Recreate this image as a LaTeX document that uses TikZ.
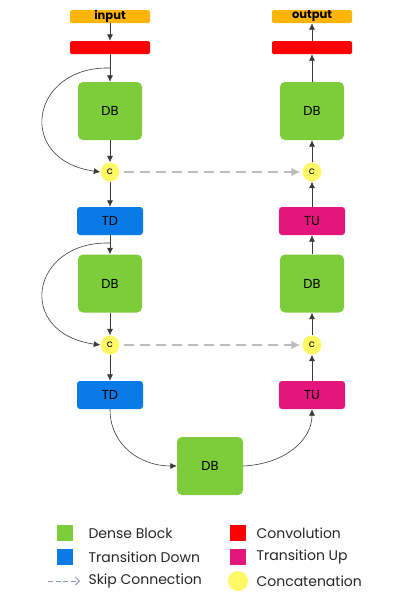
\documentclass[tikz,border=0pt]{standalone}
\usepackage{fontspec}
\setmainfont{Poppins}
\usepackage{tikz}
\tikzset{>=latex}
\usetikzlibrary{arrows.meta}
\definecolor{dbgreen}{HTML}{7DCC3A}
\definecolor{tdblue}{HTML}{0A7BE6}
\definecolor{tupink}{HTML}{E4157C}
\definecolor{convred}{HTML}{FF0000}
\definecolor{ioorange}{HTML}{FFB50A}
\definecolor{catyellow}{HTML}{FFF966}
\definecolor{skipgray}{HTML}{BDBDBD}
\definecolor{legendgray}{HTML}{8A9AAE}
\definecolor{linegray}{HTML}{3A3A3A}

\tikzset{
    iobox/.style={fill=ioorange, rounded corners=1.5pt, minimum width=80pt, minimum height=13pt, inner sep=0pt, font=\fontsize{11.5}{11.5}\selectfont\bfseries},
    convbox/.style={fill=convred, rounded corners=1.5pt, minimum width=80pt, minimum height=13pt, inner sep=0pt},
    dbbox/.style={fill=dbgreen, rounded corners=5pt, minimum width=64pt, minimum height=58pt, font=\fontsize{13}{13}\selectfont},
    tdbox/.style={fill=tdblue, rounded corners=3pt, minimum width=66pt, minimum height=28pt, font=\fontsize{13}{13}\selectfont},
    tubox/.style={fill=tupink, rounded corners=3pt, minimum width=66pt, minimum height=28pt, font=\fontsize{13}{13}\selectfont},
    cat/.style={circle, fill=catyellow, minimum size=19pt, inner sep=0pt, font=\fontsize{10}{10}\selectfont},
    flow/.style={-{Latex[length=6.5pt,width=6pt]}, draw=linegray, line width=0.6pt},
    skip/.style={-{Latex[length=9pt,width=9pt]}, draw=skipgray, line width=2.6pt, dash pattern=on 10pt off 6pt},
    legsq/.style={minimum size=16pt, inner sep=0pt},
    legtext/.style={anchor=west, font=\fontsize{14}{14}\selectfont, text=black!85}
}

\begin{document}
\begin{tikzpicture}[x=1pt, y=-1pt]
    \useasboundingbox (0,0) rectangle (405,606);

    % contracting path
    \node [iobox] (input) at (110, 16.5) {input};
    \node [convbox] (conv1) at (110, 47.5) {};
    \node [dbbox] (db1) at (110, 111) {DB};
    \node [cat] (c1) at (110, 172) {c};
    \node [tdbox] (td1) at (110, 221) {TD};
    \node [dbbox] (db2) at (110, 283.5) {DB};
    \node [cat] (c2) at (110, 345) {c};
    \node [tdbox] (td2) at (110, 395) {TD};

    % bottleneck
    \node [dbbox, minimum width=66pt] (db3) at (210, 466) {DB};

    % expanding path
    \node [tubox] (tu2) at (312, 395) {TU};
    \node [cat] (c4) at (312, 345) {c};
    \node [dbbox] (db5) at (312, 283.5) {DB};
    \node [tubox] (tu1) at (312, 221) {TU};
    \node [cat] (c3) at (312, 172) {c};
    \node [dbbox] (db4) at (312, 111) {DB};
    \node [convbox] (conv2) at (312, 47.5) {};
    \node [iobox] (output) at (312, 16.5) {output};

    \coordinate (split1) at (110, 68);
    \coordinate (split2) at (110, 243);

    \draw[flow] (input) -- (conv1);
    \draw[flow] (conv1) -- (db1);
    \draw[flow] (db1) -- (c1);
    \draw[flow] (c1) -- (td1);
    \draw[flow] (td1) -- (db2);
    \draw[flow] (db2) -- (c2);
    \draw[flow] (c2) -- (td2);
    \draw[flow] (split1) .. controls (30, 66) and (15, 160) .. (c1.west);
    \draw[flow] (split2) .. controls (30, 241) and (15, 333) .. (c2.west);

    \draw[flow] (td2.south) .. controls (110, 445) and (140, 466) .. (db3.west);
    \draw[flow] (db3.east) .. controls (285, 464) and (312, 440) .. (tu2.south);

    \draw[flow] (tu2) -- (c4);
    \draw[flow] (c4) -- (db5);
    \draw[flow] (db5) -- (tu1);
    \draw[flow] (tu1) -- (c3);
    \draw[flow] (c3) -- (db4);
    \draw[flow] (db4) -- (conv2);
    \draw[flow] (conv2) -- (output);

    % skip connections
    \draw[skip] (c1.east) ++(4,0) -- ([xshift=-2pt]c3.west);
    \draw[skip] (c2.east) ++(4,0) -- ([xshift=-2pt]c4.west);

    % legend
    \node [legsq, fill=dbgreen] (lgdb) at (65, 533) {};
    \node [legtext] (lgdbt) at (85, 533) {Dense Block};
    \node [legsq, fill=tdblue] (lgtd) at (65, 557) {};
    \node [legtext] (lgtdt) at (85, 557) {Transition Down};
    \coordinate (lgsk1) at (48, 581);
    \coordinate (lgsk2) at (80, 581);
    \draw[-{Straight Barb[length=4pt]}, draw=legendgray, line width=1pt, dash pattern=on 5pt off 2.5pt] (lgsk1) -- (lgsk2);
    \node [legtext] (lgskt) at (85, 581) {Skip Connection};

    \node [legsq, fill=convred] (lgcv) at (238, 533) {};
    \node [legtext] (lgcvt) at (253, 533) {Convolution};
    \node [legsq, fill=tupink] (lgtu) at (238, 557) {};
    \node [legtext] (lgtut) at (253, 557) {Transition Up};
    \node [cat, minimum size=20pt] (lgct) at (238, 581) {};
    \node [legtext] (lgctt) at (253, 581) {Concatenation};
\end{tikzpicture}
\end{document}
